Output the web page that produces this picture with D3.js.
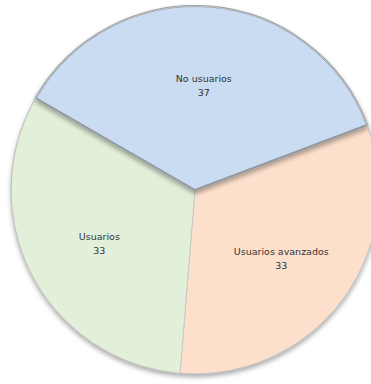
<!DOCTYPE html>
<html>
<head>
<meta charset="utf-8">
<script src="https://cdn.jsdelivr.net/npm/d3@7"></script>
<style>
  html, body { margin: 0; padding: 0; background: #ffffff; }
  svg { display: block; }
</style>
</head>
<body>
<svg id="chart" width="371" height="384"></svg>
<script>
const categories = ["No usuarios", "Usuarios avanzados", "Usuarios"];
const values = [37, 33, 33];
const colors = ["#c9dcf1", "#fde0cc", "#e2f0d9"];

const svg = d3.select("#chart");
const cx = 195, cy = 190, R = 184;

const defs = svg.append("defs");
const shadow = defs.append("filter").attr("id", "shadow")
  .attr("x", "-20%").attr("y", "-20%").attr("width", "140%").attr("height", "140%");
shadow.append("feGaussianBlur").attr("in", "SourceAlpha").attr("stdDeviation", 2.5);
shadow.append("feOffset").attr("dx", 0).attr("dy", 3).attr("result", "b");
const fct = shadow.append("feComponentTransfer");
fct.append("feFuncA").attr("type", "linear").attr("slope", 0.35);
const merge = shadow.append("feMerge");
merge.append("feMergeNode");
merge.append("feMergeNode").attr("in", "SourceGraphic");

const data = categories.map((c, i) => ({ name: c, value: values[i], color: colors[i] }));

const pie = d3.pie().sort(null).value(d => d.value)
  .startAngle(-60 * Math.PI / 180)
  .endAngle((360 - 60) * Math.PI / 180);
const arcs = pie(data);

const arc = d3.arc().innerRadius(0).outerRadius(R);
const labelArc = d3.arc().innerRadius(108).outerRadius(108);

const g = svg.append("g").attr("transform", `translate(${cx},${cy})`);

g.append("circle").attr("r", R).attr("fill", "#ffffff").attr("filter", "url(#shadow)");

g.selectAll("path.other").data(arcs.slice(1)).join("path")
  .attr("class", "other")
  .attr("d", arc)
  .attr("fill", d => d.data.color)
  .attr("stroke", "#c9c9c4")
  .attr("stroke-width", 1);

g.selectAll("path.main").data(arcs.slice(0, 1)).join("path")
  .attr("class", "main")
  .attr("d", arc)
  .attr("fill", d => d.data.color)
  .attr("stroke", "#9298a2")
  .attr("stroke-width", 2)
  .attr("filter", "url(#shadow)");

g.append("circle").attr("r", R).attr("fill", "none")
  .attr("stroke", "#c4c4c4").attr("stroke-width", 1);

const labels = g.selectAll("g.lbl").data(arcs).join("g")
  .attr("class", "lbl")
  .attr("transform", d => `translate(${labelArc.centroid(d)})`)
  .style("font-family", "'DejaVu Sans', Verdana, sans-serif")
  .style("font-size", "9.5px")
  .attr("fill", "#333333")
  .attr("text-anchor", "middle");

labels.append("text").attr("y", 0).text(d => d.data.name);
labels.append("text").attr("y", 14).text(d => d.data.value);
</script>
</body>
</html>
